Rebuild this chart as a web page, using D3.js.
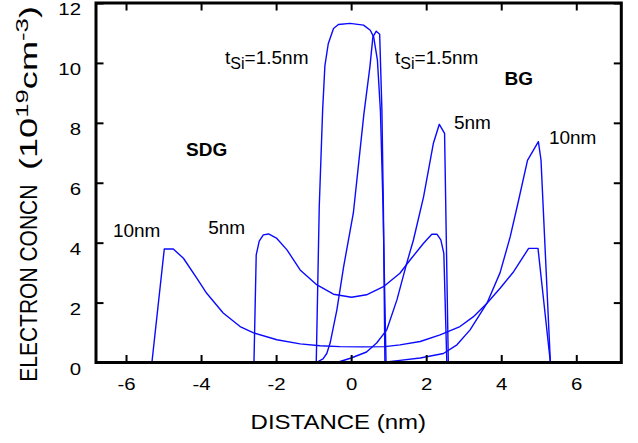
<!DOCTYPE html>
<html>
<head>
<meta charset="utf-8">
<script src="https://cdn.jsdelivr.net/npm/d3@7"></script>
<style>
  body { margin: 0; background: #fff; }
  text { font-family: "Liberation Sans", Arial, sans-serif; fill: #000; }
</style>
</head>
<body>
<div id="chart"></div>
<script>
//data
var xTicks = [-6, -4, -2, 0, 2, 4, 6];
var yTicks = [0, 2, 4, 6, 8, 10, 12];

// SDG curves
var sdg10X = [-5.31, -4.98, -4.74, -4.47, -4.11, -3.85, -3.41, -2.96, -2.6, -1.98, -1.36, -0.83, -0.3, 0.3, 0.9, 1.3, 1.84, 2.37, 2.9, 3.26, 3.62, 3.97, 4.33, 4.73, 4.98, 5.31];
var sdg10Y = [0, 3.79, 3.79, 3.48, 2.81, 2.31, 1.65, 1.2, 0.99, 0.76, 0.62, 0.56, 0.53, 0.52, 0.53, 0.59, 0.7, 0.92, 1.2, 1.53, 1.98, 2.48, 3.03, 3.81, 3.81, 0];

var sdg5X = [-2.59, -2.53, -2.45, -2.34, -2.2, -1.98, -1.71, -1.36, -0.91, -0.47, 0.01, 0.41, 0.86, 1.3, 1.57, 1.93, 2.15, 2.29, 2.39, 2.47, 2.55];
var sdg5Y = [0, 3.59, 4.05, 4.26, 4.29, 4.14, 3.76, 3.09, 2.59, 2.28, 2.18, 2.26, 2.53, 2.98, 3.42, 3.98, 4.28, 4.28, 4.09, 3.64, 0];

var sdg15X = [-0.93, -0.85, -0.76, -0.7, -0.61, -0.47, -0.34, -0.03, 0.33, 0.51, 0.6, 0.7, 0.78, 0.85, 0.93];
var sdg15Y = [0, 5.2, 8.42, 9.9, 10.64, 11.15, 11.28, 11.32, 11.26, 11.09, 10.87, 10.09, 8.4, 5.2, 0];

// BG curves
var bg15X = [-0.93, -0.75, -0.65, -0.56, -0.38, -0.2, 0.06, 0.34, 0.5, 0.58, 0.67, 0.76, 0.82, 0.86, 0.9];
var bg15Y = [0, 0.12, 0.3, 0.65, 1.76, 3.2, 5.0, 8.3, 9.87, 10.87, 11.06, 10.96, 8.42, 5.09, 0];

var bg5X = [-0.38, 0, 0.41, 0.68, 0.95, 1.22, 1.48, 1.66, 1.93, 2.19, 2.35, 2.49, 2.59];
var bg5Y = [0, 0.15, 0.35, 0.65, 1.09, 2.09, 3.31, 4.09, 5.53, 7.31, 7.95, 7.65, 0];

var bg10X = [0.82, 1.3, 1.84, 2.46, 2.82, 3.17, 3.62, 3.97, 4.24, 4.46, 4.7, 4.99, 5.06, 5.31];
var bg10Y = [0, 0.07, 0.15, 0.3, 0.59, 1.09, 1.98, 3.0, 4.2, 5.4, 6.75, 7.37, 6.76, 0];

var curves = [
    [sdg10X, sdg10Y], [sdg5X, sdg5Y], [sdg15X, sdg15Y],
    [bg15X, bg15Y], [bg5X, bg5Y], [bg10X, bg10Y]
];

// annotation text, anchored in data units (nm, 1e19 cm-3)
var notes = [
    { t: "SDG", x: -4.40, y: 6.89, bold: true },
    { t: "BG", x: 4.09, y: 9.26, bold: true },
    { t: "10nm", x: -6.35, y: 4.19 },
    { t: "5nm", x: -3.81, y: 4.29 },
    { t: "5nm", x: 2.74, y: 7.79 },
    { t: "10nm", x: 5.27, y: 7.29 }
];
var tsiNotes = [{ x: -3.36, y: 9.96 }, { x: 1.17, y: 9.96 }];

//setup
var width = 638,
    height = 443;

var xScale = d3.scaleLinear()
    .domain([-6.8, 7.2])
    .range([96, 621.3]);

var yScale = d3.scaleLinear()
    .domain([0, 12])
    .range([362.5, 3]);

var svg = d3.select("#chart").append("svg")
    .attr("width", width)
    .attr("height", height);

//curves
var line = d3.line()
    .x(function (d) { return xScale(d[0]); })
    .y(function (d) { return yScale(d[1]); });

svg.append("g").selectAll("path")
    .data(curves)
    .enter().append("path")
    .attr("d", function (c) {
        return line(c[0].map(function (v, i) { return [v, c[1][i]]; }));
    })
    .attr("fill", "none")
    .attr("stroke", "#0a0aff")
    .attr("stroke-width", 1.4)
    .attr("stroke-linejoin", "round");

//axes, ticks pointing in on all four sides
var tick = 7.5;
var plain = function (d) { return String(d); }; // hyphen minus, like the original

var xAxis = svg.append("g")
    .attr("transform", "translate(0," + yScale(0) + ")")
    .call(d3.axisBottom(xScale).tickValues(xTicks).tickFormat(plain)
        .tickSizeInner(-tick).tickSizeOuter(0).tickPadding(15.5));

svg.append("g")
    .attr("transform", "translate(0," + yScale(12) + ")")
    .call(d3.axisTop(xScale).tickValues(xTicks).tickSizeInner(-tick).tickSizeOuter(0).tickFormat(""));

var yAxis = svg.append("g")
    .attr("transform", "translate(" + xScale(-6.8) + ",0)")
    .call(d3.axisLeft(yScale).tickValues(yTicks).tickFormat(plain)
        .tickSizeInner(-tick).tickSizeOuter(0).tickPadding(15));

svg.append("g")
    .attr("transform", "translate(" + xScale(7.2) + ",0)")
    .call(d3.axisRight(yScale).tickValues(yTicks).tickSizeInner(-tick).tickSizeOuter(0).tickFormat(""));

svg.selectAll(".domain").remove();
svg.selectAll(".tick line").attr("stroke", "#000").attr("stroke-width", 2);
svg.selectAll(".tick text")
    .style("font-family", "'Liberation Sans', Arial, sans-serif")
    .style("font-size", "17px")
    .attr("fill", "#000");

xAxis.selectAll(".tick text").attr("transform", "scale(1.2,1)");
yAxis.selectAll(".tick text")
    .attr("dy", "0.7em")
    .attr("transform", "scale(1.2,1)")
    .attr("x", -15 / 1.2);

//frame
svg.append("rect")
    .attr("x", xScale(-6.8))
    .attr("y", yScale(12))
    .attr("width", xScale(7.2) - xScale(-6.8))
    .attr("height", yScale(0) - yScale(12))
    .attr("fill", "none")
    .attr("stroke", "#000")
    .attr("stroke-width", 3);

//axis titles
svg.append("text")
    .attr("transform", "translate(338.3,429) scale(1.2,1)")
    .attr("text-anchor", "middle")
    .style("font-size", "20px")
    .text("DISTANCE (nm)");

svg.append("text")
    .attr("transform", "translate(36.7,381.7) scale(1.12,1) rotate(-90)")
    .style("font-size", "21px")
    .text("ELECTRON CONCN");

var unit = svg.append("text")
    .attr("transform", "translate(36.7,170) scale(1.12,1) rotate(-90)")
    .attr("textLength", 164)
    .attr("lengthAdjust", "spacingAndGlyphs")
    .style("font-size", "21px");
unit.append("tspan").text("(10");
unit.append("tspan").attr("dy", -8).style("font-size", "15px").text("19");
unit.append("tspan").attr("dy", 8).text("cm");
unit.append("tspan").attr("dy", -8).style("font-size", "15px").text("-3");
unit.append("tspan").attr("dy", 8).text(")");

//annotations
svg.selectAll(".note")
    .data(notes)
    .enter().append("text")
    .attr("class", "note")
    .attr("x", function (d) { return xScale(d.x); })
    .attr("y", function (d) { return yScale(d.y); })
    .style("font-size", "19px")
    .style("font-weight", function (d) { return d.bold ? "bold" : "normal"; })
    .text(function (d) { return d.t; });

tsiNotes.forEach(function (d) {
    var t = svg.append("text")
        .attr("x", xScale(d.x))
        .attr("y", yScale(d.y))
        .style("font-size", "19px");
    t.append("tspan").text("t");
    t.append("tspan").attr("dy", 5).style("font-size", "16px").text("Si");
    t.append("tspan").attr("dy", -5).text("=1.5nm");
});
</script>
</body>
</html>
